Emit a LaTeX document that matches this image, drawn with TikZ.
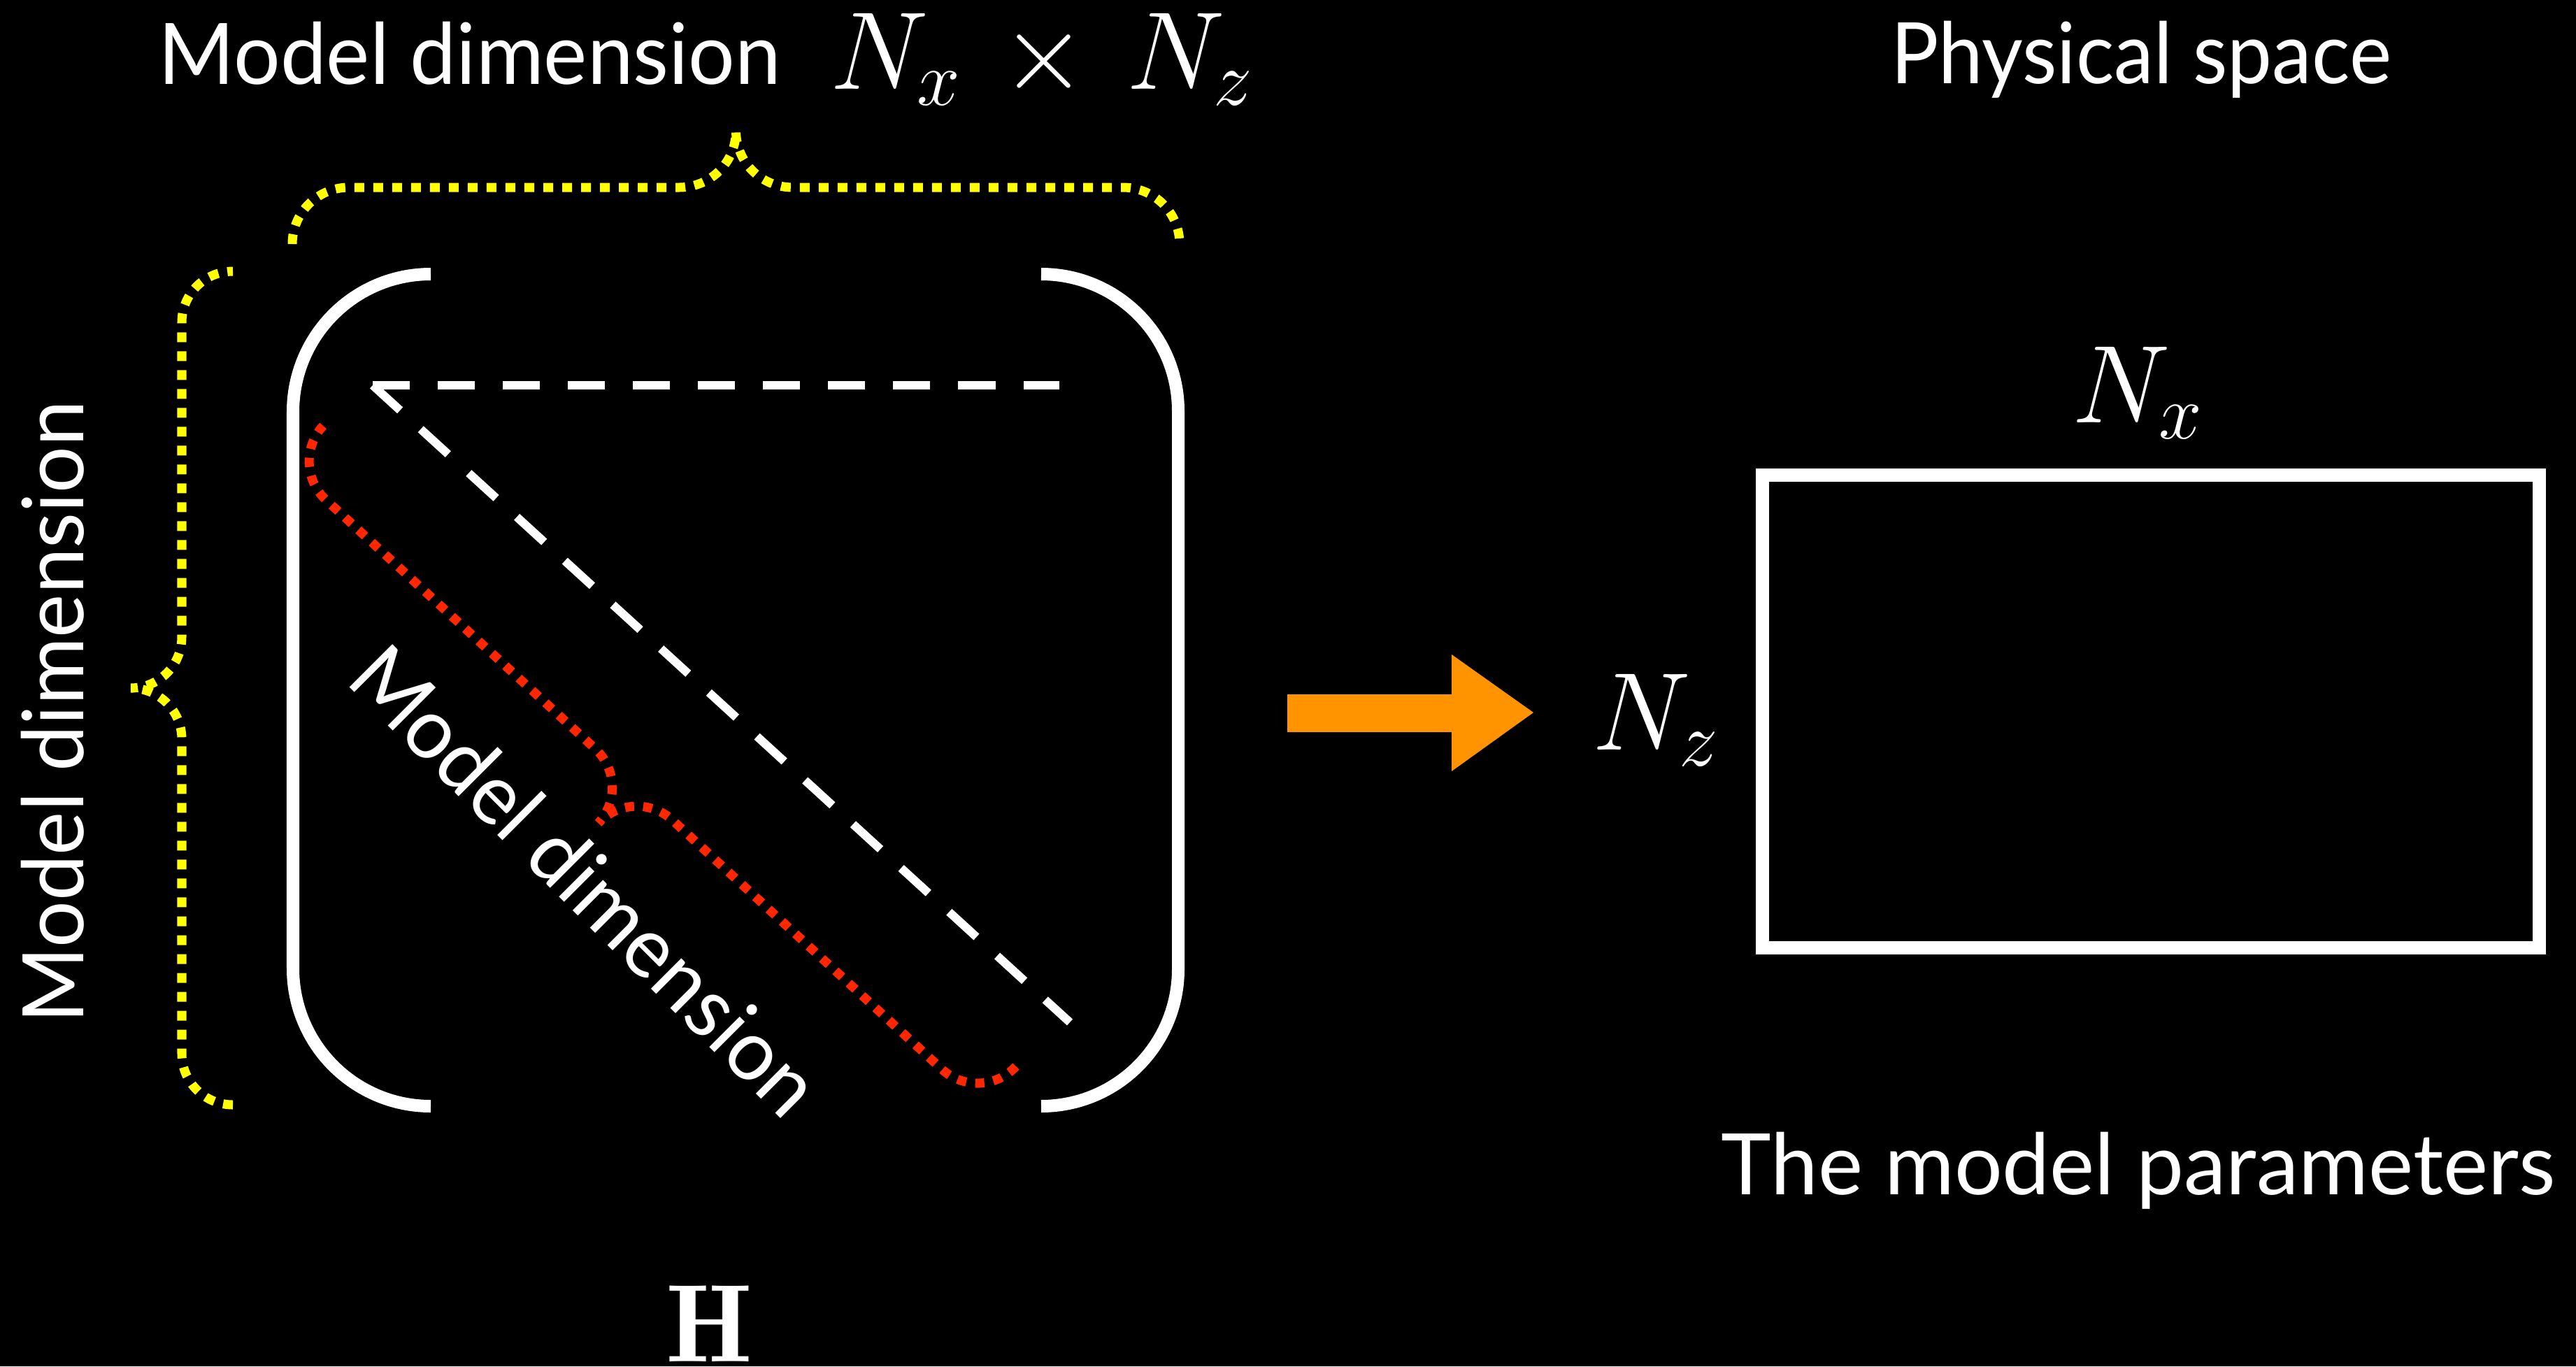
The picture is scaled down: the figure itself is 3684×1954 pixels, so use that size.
\RequirePackage{fix-cm}
\documentclass[tikz,border=0pt]{standalone}
\usepackage{fontspec}
\newfontfamily\gill{Lato}
\definecolor{ybr}{RGB}{255,255,0}
\definecolor{rbr}{RGB}{255,38,0}
\definecolor{orng}{RGB}{255,148,0}
% curly brace in a local frame: ends at (0,0) and (#1,0), tip at (#1/2, 2*#2)
\newcommand{\bracepath}[2]{(0,0) arc[start angle=180,end angle=90,radius=#2]
  -- ({#1/2-#2},#2) arc[start angle=270,end angle=360,radius=#2]
  arc[start angle=180,end angle=270,radius=#2]
  -- ({#1-#2},#2) arc[start angle=90,end angle=0,radius=#2]}
\begin{document}
\begin{tikzpicture}[x=0.01cm,y=0.01cm,
  txt/.style={text=white,inner sep=0pt,font=\gill\fontsize{34.5}{40}\selectfont},
  mth/.style={text=white,inner sep=0pt,font=\fontsize{45}{54}\selectfont},
  bracket/.style={draw=white,line width=0.18cm},
  wdash/.style={draw=white,line width=0.12cm,dash pattern=on 0.53cm off 0.40cm},
  ydot/.style={draw=ybr,line width=0.13cm,dash pattern=on 0.14cm off 0.13cm},
  rdot/.style={draw=rbr,line width=0.13cm,dash pattern=on 0.13cm off 0.13cm},
  framebox/.style={draw=white,line width=0.19cm}]
\fill[black] (0,0) rectangle (3684,-1954);
\useasboundingbox (0,0) rectangle (3684,-1954);

% texts
\node[txt,anchor=base] (ttop) at (672,-120) {\scalebox{0.97}[1]{Model dimension}};
\node[mth,anchor=base] (tmath) at (1490,-127) {$N_x \mkern2.5mu\times\mkern2.5mu N_z$};
\node[txt,anchor=base] (tphys) at (3062,-119) {\scalebox{0.94}[1]{Physical space}};
\node[mth,anchor=base] (tnx) at (3057,-604) {$N_x$};
\node[mth,anchor=base] (tnz) at (2368,-1072) {$N_z$};
\node[txt,anchor=base] (tparams) at (3058,-1708) {The model parameters};
\node[mth,anchor=base] (tH) at (1014,-1947) {$\mathbf{H}$};
\node[txt,anchor=base,rotate=90] (tleft) at (120,-1018) {\scalebox{0.97}[1]{Model dimension}};
\node[txt,anchor=base,rotate=-45] (tdiag) at (807,-1290) {\scalebox{0.97}[1]{Model dimension}};

% matrix brackets
\draw[bracket] (616,-392) arc[start angle=90,end angle=180,radius=197]
  -- (419,-1385) arc[start angle=180,end angle=270,radius=197];
\draw[bracket] (1489,-392) arc[start angle=90,end angle=0,radius=196]
  -- (1685,-1386) arc[start angle=0,end angle=-90,radius=196];

% dashed lines
\coordinate (corner) at (533,-551);
\coordinate (topend) at (1515,-551);
\coordinate (diagend) at (1530,-1462);
\draw[wdash] (corner) -- (topend);
\draw[wdash] (corner) -- (diagend);

% braces
\draw[ydot,shift={(418,-349)}] \bracepath{1269}{81};
\draw[ydot,shift={(333,-1580)},rotate=90] \bracepath{1192}{73};
\draw[rdot,shift={(1453,-1525)},rotate=137.25] \bracepath{1349.5}{75};

% block arrow
\fill[orng] (1841,-993) -- (2076,-993) -- (2076,-936) -- (2193,-1019)
  -- (2076,-1103) -- (2076,-1047) -- (1841,-1047) -- cycle;

% physical space frame
\node[framebox,minimum width=11.1cm,minimum height=6.75cm,inner sep=0pt] (phys) at (3076,-1017.5) {};
\end{tikzpicture}
\end{document}
